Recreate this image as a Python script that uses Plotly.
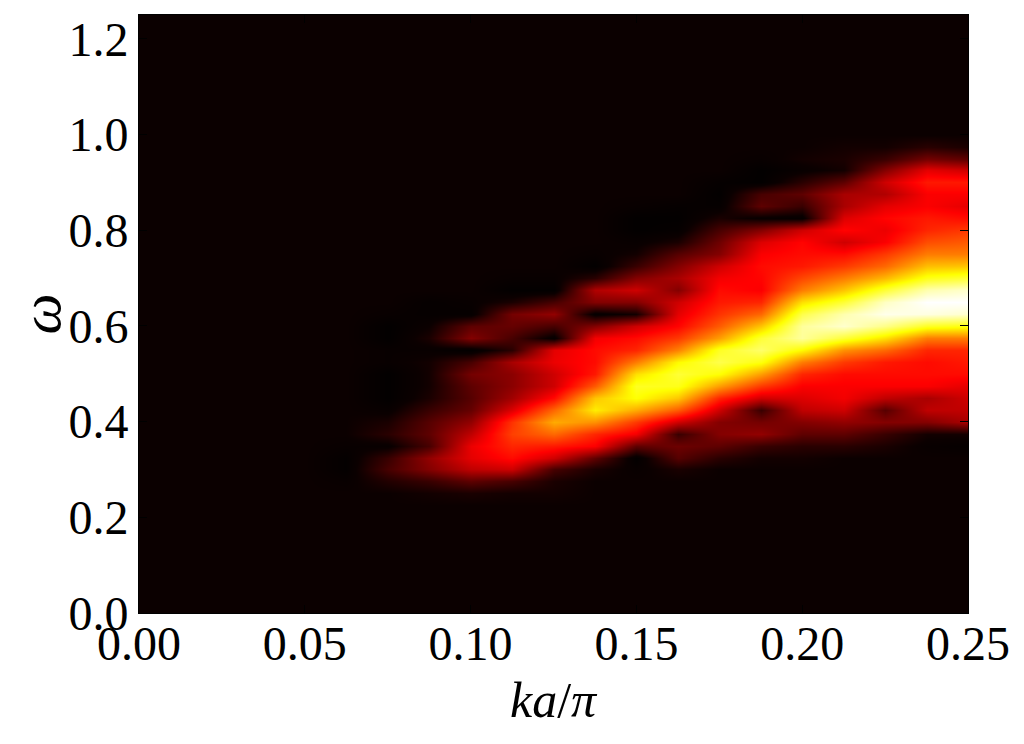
import numpy as np
import plotly.graph_objects as go

# grid coordinates (cell centres)
KA = [0.0, 0.05, 0.0625, 0.075, 0.0875, 0.1, 0.1125, 0.125, 0.1375,
      0.15, 0.1625, 0.175, 0.1875, 0.2, 0.2125, 0.225, 0.2375, 0.25]
OMEGA_MID = [round(0.2 + 0.025 * i, 3) for i in range(35)]  # 0.2 .. 1.05
OMEGA = [0.0, 0.1] + OMEGA_MID + [1.15, 1.25]

BG = 0.04  # background level

# spectral intensity per ka column, rows from omega=0.2 upwards (rest is background)
I_0000 = []
I_0500 = []
I_0625 = [0.04, 0.04, 0.04, 0.03, 0.015, 0.015, 0.03]
I_0750 = [0.04, 0.04, 0.04, 0.07, 0.12, 0.10, 0.03, 0.08, 0.06, 0.03,
          0.01, 0.01, 0.01, 0.03, 0.03, 0.01, 0.01, 0.03]
I_0875 = [0.04, 0.04, 0.05, 0.10, 0.20, 0.22, 0.12, 0.15, 0.14, 0.10,
          0.06, 0.05, 0.05, 0.05, 0.03, 0.06, 0.04, 0.02, 0.02]
I_1000 = [0.04, 0.04, 0.06, 0.15, 0.28, 0.33, 0.34, 0.28, 0.22, 0.16,
          0.14, 0.15, 0.18, 0.12, 0.01, 0.20, 0.15, 0.02, 0.03]
I_1125 = [0.04, 0.04, 0.05, 0.12, 0.30, 0.38, 0.42, 0.46, 0.44, 0.32,
          0.24, 0.21, 0.21, 0.25, 0.08, 0.12, 0.16, 0.18, 0.06, 0.01, 0.03]
I_1250 = [0.04, 0.04, 0.05, 0.06, 0.12, 0.30, 0.40, 0.52, 0.62, 0.52,
          0.38, 0.30, 0.30, 0.34, 0.33, 0.02, 0.12, 0.22, 0.12, 0.01, 0.03]
I_1375 = [0.04, 0.04, 0.04, 0.04, 0.06, 0.15, 0.36, 0.42, 0.58, 0.72,
          0.66, 0.50, 0.40, 0.38, 0.38, 0.35, 0.20, 0.02, 0.20, 0.26,
          0.08, 0.01, 0.03]
I_1500 = [0.04, 0.04, 0.04, 0.04, 0.03, 0.01, 0.15, 0.35, 0.45, 0.62,
          0.75, 0.78, 0.70, 0.55, 0.42, 0.38, 0.30, 0.05, 0.20, 0.30,
          0.20, 0.10, 0.05, 0.03, 0.01, 0.01, 0.03]
I_1625 = [0.04, 0.04, 0.04, 0.04, 0.06, 0.14, 0.17, 0.10, 0.30, 0.50,
          0.66, 0.77, 0.80, 0.74, 0.56, 0.45, 0.37, 0.33, 0.30, 0.20,
          0.25, 0.20, 0.14, 0.06, 0.02, 0.01, 0.02]
I_1750 = [0.04, 0.04, 0.04, 0.04, 0.04, 0.08, 0.15, 0.20, 0.20, 0.30,
          0.42, 0.60, 0.75, 0.82, 0.78, 0.60, 0.50, 0.44, 0.40, 0.38,
          0.35, 0.30, 0.20, 0.17, 0.12, 0.06, 0.02, 0.01, 0.02]
I_1875 = [0.04, 0.04, 0.04, 0.04, 0.04, 0.05, 0.10, 0.22, 0.18, 0.10,
          0.30, 0.45, 0.60, 0.76, 0.85, 0.80, 0.66, 0.52, 0.42, 0.36,
          0.37, 0.38, 0.36, 0.32, 0.20, 0.03, 0.15, 0.12, 0.01, 0.01, 0.03]
I_2000 = [0.04, 0.04, 0.04, 0.04, 0.04, 0.05, 0.08, 0.15, 0.20, 0.28,
          0.32, 0.36, 0.42, 0.55, 0.74, 0.90, 0.90, 0.82, 0.70, 0.55,
          0.47, 0.40, 0.38, 0.37, 0.30, 0.02, 0.10, 0.15, 0.08, 0.03, 0.05]
I_2125 = [0.04, 0.04, 0.04, 0.04, 0.04, 0.04, 0.08, 0.15, 0.22, 0.30,
          0.35, 0.36, 0.38, 0.45, 0.58, 0.80, 0.95, 0.92, 0.80, 0.66,
          0.55, 0.45, 0.38, 0.30, 0.37, 0.32, 0.25, 0.25, 0.15, 0.05,
          0.06, 0.05]
I_2250 = [0.04, 0.04, 0.04, 0.04, 0.04, 0.04, 0.06, 0.10, 0.20, 0.14,
          0.28, 0.36, 0.38, 0.40, 0.52, 0.70, 0.88, 0.98, 0.94, 0.80,
          0.64, 0.52, 0.45, 0.36, 0.34, 0.37, 0.33, 0.26, 0.30, 0.20,
          0.10, 0.05]
I_2375 = [0.04, 0.04, 0.04, 0.04, 0.04, 0.04, 0.03, 0.05, 0.20, 0.28,
          0.25, 0.36, 0.38, 0.38, 0.42, 0.55, 0.78, 0.97, 1.00, 0.92,
          0.77, 0.65, 0.55, 0.48, 0.42, 0.40, 0.36, 0.36, 0.40, 0.33,
          0.18, 0.08]
I_2500 = [0.04, 0.04, 0.04, 0.04, 0.04, 0.04, 0.02, 0.05, 0.25, 0.28,
          0.30, 0.33, 0.38, 0.40, 0.42, 0.55, 0.76, 0.95, 1.00, 0.95,
          0.80, 0.66, 0.55, 0.50, 0.45, 0.38, 0.33, 0.36, 0.40, 0.30,
          0.15, 0.06]

X_TICKS = [0.0, 0.05, 0.10, 0.15, 0.20, 0.25]
X_TICK_TEXT = ["0.00", "0.05", "0.10", "0.15", "0.20", "0.25"]
Y_TICKS = [0.0, 0.2, 0.4, 0.6, 0.8, 1.0, 1.2]
Y_TICK_TEXT = ["0.0", "0.2", "0.4", "0.6", "0.8", "1.0", "1.2"]

columns = [I_0000, I_0500, I_0625, I_0750, I_0875, I_1000, I_1125, I_1250,
           I_1375, I_1500, I_1625, I_1750, I_1875, I_2000, I_2125, I_2250,
           I_2375, I_2500]
full_cols = [[BG, BG] + c + [BG] * (len(OMEGA_MID) - len(c)) + [BG, BG] for c in columns]
z = np.array(full_cols).T

# matplotlib "hot"-like map, with the darkest holes going fully black
hot = [[0.0, "rgb(0,0,0)"], [0.04, "rgb(11,0,0)"], [0.365, "rgb(255,0,0)"],
       [0.746, "rgb(255,255,0)"], [1.0, "rgb(255,255,255)"]]

fig = go.Figure(go.Heatmap(
    x=KA, y=OMEGA, z=z,
    colorscale=hot, zmin=0, zmax=1,
    zsmooth="best", showscale=False, hoverinfo="skip",
))

axis_style = dict(
    ticks="inside", ticklen=8, tickwidth=1, tickcolor="black",
    showline=True, linecolor="black", linewidth=1, mirror="ticks",
    showgrid=False, zeroline=False,
)

# page body adds an 8px offset, so the figure is 8px smaller than the window
fig.update_layout(
    width=1016, height=736,
    margin=dict(l=131, r=56, t=5, b=131),
    paper_bgcolor="white", plot_bgcolor="rgb(11,0,0)",
    font=dict(family="Liberation Serif", size=48, color="black"),
    xaxis=dict(range=[0, 0.25], tickvals=X_TICKS, ticktext=X_TICK_TEXT,
               ticklabelstandoff=-12, **axis_style),
    yaxis=dict(range=[0, 1.25], tickvals=Y_TICKS, ticktext=Y_TICK_TEXT,
               title=dict(text="<i>ω</i>", standoff=8), **axis_style),
    annotations=[dict(
        xref="paper", yref="paper", x=0.5, y=-0.145,
        xanchor="center", yanchor="middle", showarrow=False,
        text="<i>ka</i>/<i>π</i>", font=dict(size=50),
    )],
)

fig.write_html("out.html")
